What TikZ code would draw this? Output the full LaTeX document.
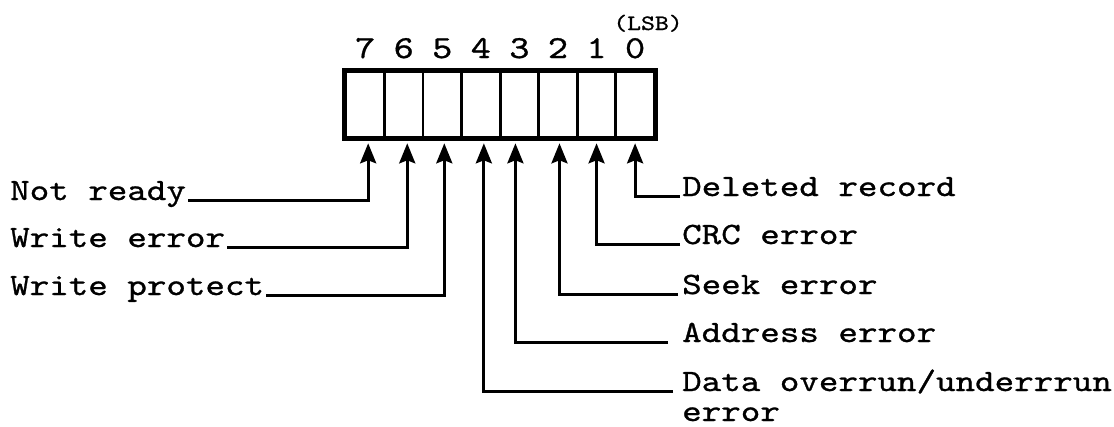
\documentclass[tikz,border=0pt]{standalone}
\usepackage{fontspec}
\usetikzlibrary{arrows.meta,calc}
\newfontfamily\tw{lmmono10-regular.otf}[FakeStretch=1.2,FakeBold=0.9]
\tikzset{
  lbl/.style={inner sep=0pt, font=\fontsize{31}{31}\selectfont\tw, anchor=base west},
  digit/.style={inner sep=0pt, font=\fontsize{32}{32}\selectfont\tw, anchor=base},
  cell/.style={draw, line width=2.8pt, minimum width=38.56pt, minimum height=65pt, inner sep=0pt, anchor=north west},
  outer/.style={line width=5pt},
  arr/.style={line width=3pt, -{Stealth[length=20pt,width=16pt,inset=3pt]}},
}
\begin{document}
\begin{tikzpicture}[x=1pt,y=-1pt]
\useasboundingbox (0,0) rectangle (1114,426);
% register cells
\foreach \k in {0,...,7}{
  \node[cell] (c\k) at ({344.5+(7-\k)*38.56},70.5) {};
}
\draw[outer] (c7.north west) rectangle (c0.south east);
% bit numbers
\foreach \k in {0,...,7}{
  \node[digit] (d\k) at ($(c\k.north)+(0,-12.5)$) {\k};
}
\node[inner sep=0pt, font=\fontsize{22}{22}\selectfont\tw, anchor=base] (lsb) at (648,30) {(LSB)};
% left labels
\node[lbl] (nr) at (10,200) {Not ready};
\node[lbl] (we) at (10,247) {Write error};
\node[lbl] (wp) at (10,295) {Write protect};
% right labels
\node[lbl] (dr) at (682,196) {Deleted record};
\node[lbl] (crc) at (682,244) {CRC error};
\node[lbl] (se) at (682,294) {Seek error};
\node[lbl] (ae) at (682,342) {Address error};
\node[lbl] (do) at (682,391) {Data overrun/underrrun};
\node[lbl] (doe) at (682,421) {error};
% connectors
\draw[arr] ([xshift=2pt]nr.base east) -| ([xshift=3pt,yshift=-5pt]c7.south);
\draw[arr] ([xshift=2pt]we.base east) -| ([xshift=3.5pt,yshift=-5pt]c6.south);
\draw[arr] ([xshift=2pt]wp.base east) -| ([xshift=2pt,yshift=-5pt]c5.south);
\draw[arr] ([xshift=-9pt]do.base west) -| ([xshift=3pt,yshift=-5pt]c4.south);
\draw[arr] ([xshift=-14pt]ae.base west) -| ([xshift=-4pt,yshift=-5pt]c3.south);
\draw[arr] ([xshift=-4pt]se.base west) -| ([xshift=1.5pt,yshift=-5pt]c2.south);
\draw[arr] ([xshift=-2pt]crc.base west) -| ([yshift=-5pt]c1.south);
\draw[arr] ([xshift=-2pt]dr.base west) -| ([yshift=-5pt]c0.south);
\end{tikzpicture}
\end{document}
